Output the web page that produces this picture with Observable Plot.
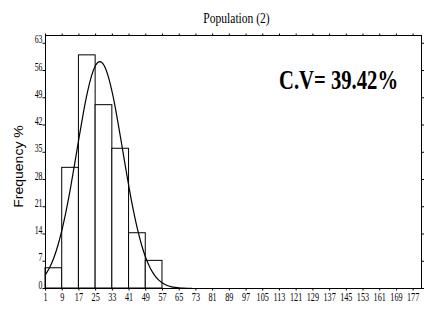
<!DOCTYPE html>
<html>
<head>
<meta charset="utf-8">
<script src="https://cdn.jsdelivr.net/npm/d3@7"></script>
<script src="https://cdn.jsdelivr.net/npm/@observablehq/plot@0.6"></script>
<style>
  html, body { margin: 0; padding: 0; background: white; }
</style>
</head>
<body>
<div id="chart"></div>
<script>
// Histogram bins (class start/end) and frequency %
const binStart = [1, 9, 17, 25, 33, 41, 49];
const binEnd   = [9, 17, 25, 33, 41, 49, 57];
const freq     = [5.2, 31.0, 59.9, 47.1, 35.9, 14.2, 7.1];

// Fitted curve
const curveX = [1, 3, 5, 7, 9, 11, 13, 15, 17, 19, 21, 23, 25, 27, 29, 31, 33, 35, 37, 39, 41, 43, 45, 47, 49, 51, 53, 55, 57, 59, 61, 63, 65, 67, 69, 71];
const curveY = [3.57, 5.40, 7.89, 11.17, 15.29, 20.24, 25.94, 32.16, 38.57, 44.75, 50.24, 54.57, 57.35, 58.3, 57.35, 54.57, 50.24, 44.75, 38.57, 32.16, 25.94, 20.24, 15.29, 11.17, 7.89, 5.40, 3.57, 2.28, 1.42, 0.85, 0.49, 0.28, 0.15, 0.08, 0.04, 0.02];

// Tick labels
const xTicks = [1, 9, 17, 25, 33, 41, 49, 57, 65, 73, 81, 89, 97, 105, 113, 121, 129, 137, 145, 153, 161, 169, 177];
const yTicks = [0, 7, 14, 21, 28, 35, 42, 49, 56, 63];

const titleText = "Population (2)";
const cvText = "C.V= 39.42%";
const yLabel = "Frequency %";

const bins = binStart.map((s, i) => ({x1: s, x2: binEnd[i], y: freq[i]}));
const curve = curveX.map((x, i) => ({x, y: curveY[i]}));

const serif = "Liberation Serif, Times New Roman, serif";
const sans = "Liberation Sans, Arial, sans-serif";

const svg = Plot.plot({
  width: 424,
  height: 319,
  marginLeft: 45,
  marginRight: 3,
  marginTop: 35,
  marginBottom: 31,
  style: {fontFamily: serif, fontSize: "12px", background: "white", color: "black"},
  x: {domain: [1, 181]},
  y: {domain: [0, 65]},
  marks: [
    Plot.rectY(bins, {x1: "x1", x2: "x2", y1: 0, y2: "y", fill: "white", stroke: "black", strokeWidth: 1}),
    Plot.line(curve, {x: "x", y: "y", curve: "natural", stroke: "black", strokeWidth: 1.2}),
    Plot.frame({stroke: "black", strokeWidth: 1}),
    Plot.axisX({ticks: xTicks, anchor: "bottom", tickSize: 2.5, tickPadding: 10, label: null, tickFormat: d => String(d), fontFamily: serif, fontSize: 13}),
    Plot.axisX({ticks: xTicks, anchor: "top", tickSize: 2.5, label: null, tickFormat: () => ""}),
    Plot.axisY({ticks: yTicks, anchor: "left", tickSize: 2.5, tickPadding: 0.5, label: null, tickFormat: d => String(d), fontFamily: serif, fontSize: 13}),
    Plot.axisY({ticks: yTicks, anchor: "right", tickSize: 2.5, label: null, tickFormat: () => ""}),
    Plot.text([titleText], {frameAnchor: "top", dx: 3, dy: -13, lineAnchor: "bottom", textAnchor: "middle", fontSize: 15, fontFamily: serif}),
    Plot.text([cvText], {frameAnchor: "top-right", dx: -83, dy: 53, lineAnchor: "bottom", textAnchor: "middle", fontSize: 26.5, fontWeight: "bold", fontFamily: serif}),
    Plot.text([yLabel], {frameAnchor: "left", dx: -23, dy: 4.5, rotate: -90, textAnchor: "middle", lineAnchor: "middle", fontSize: 14, fontFamily: sans})
  ]
});

document.getElementById("chart").appendChild(svg);

// Narrow the glyphs horizontally to match the compressed look of the reference
function squeezeEl(t, sx, sy) {
  const x = +t.getAttribute("x") || 0;
  const y = +t.getAttribute("y") || 0;
  t.removeAttribute("x");
  t.removeAttribute("y");
  const tr = t.getAttribute("transform") || "";
  t.setAttribute("transform", `${tr} translate(${x},${y}) scale(${sx},${sy})`);
}
const xTickSet = new Set(xTicks.map(String));
const yTickSet = new Set(yTicks.map(String));
svg.querySelectorAll("text").forEach(t => {
  const s = t.textContent.trim();
  if (!s) return;
  const anchor = getComputedStyle(t).textAnchor;
  if (s === titleText) { t.style.fontFamily = serif; squeezeEl(t, 0.77, 1); }
  else if (s === cvText) { t.style.fontFamily = serif; squeezeEl(t, 0.78, 1); }
  else if (s === yLabel) { t.style.fontFamily = sans; squeezeEl(t, 1, 0.85); }
  else if (anchor === "end" && yTickSet.has(s)) { t.style.fontFamily = serif; t.style.fontSize = "13px"; squeezeEl(t, 0.6, 1); }
  else if (xTickSet.has(s)) { t.style.fontFamily = serif; t.style.fontSize = "13px"; squeezeEl(t, 0.63, 1); }
});
</script>
</body>
</html>
